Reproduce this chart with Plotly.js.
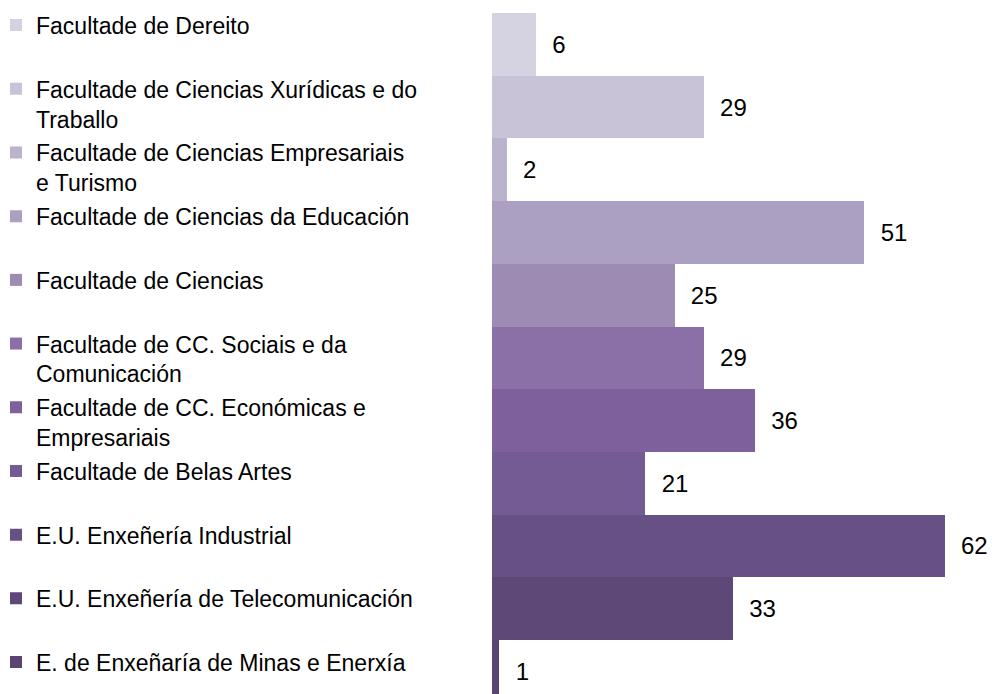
<!DOCTYPE html>
<html>
<head>
<meta charset="utf-8">
<script src="https://cdn.plot.ly/plotly-3.0.1.min.js"></script>
<style>
  html, body { margin: 0; padding: 0; background: #fff; }
  #chart { width: 992px; height: 694px; }
</style>
</head>
<body>
<div id="chart"></div>
<script>
// Category names (as wrapped in the legend)
const categories = [
  "Facultade de Dereito",
  "Facultade de Ciencias Xurídicas e do<br>Traballo",
  "Facultade de Ciencias Empresariais<br>e Turismo",
  "Facultade de Ciencias da Educación",
  "Facultade de Ciencias",
  "Facultade de CC. Sociais e da<br>Comunicación",
  "Facultade de CC. Económicas e<br>Empresariais",
  "Facultade de Belas Artes",
  "E.U. Enxeñería Industrial",
  "E.U. Enxeñería de Telecomunicación",
  "E. de Enxeñaría de Minas e Enerxía"
];

// Values per faculty
const values = [6, 29, 2, 51, 25, 29, 36, 21, 62, 33, 1];

// Series colours
const colors = [
  "#D5D2E2", "#C9C3D8", "#BBB2CD", "#ABA0C2", "#9D8BB3",
  "#8A70A6", "#7E619C", "#745B93", "#675084", "#5E4877", "#594472"
];

const FONT = 'Arial, "Liberation Sans", sans-serif';

const traces = categories.map((name, i) => {
  const plain = name.replace(/<br>/g, " ");
  // keep every legend entry (except the last) two lines tall so entries are evenly spaced
  const legendName = (name.indexOf("<br>") === -1 && i < categories.length - 1)
    ? name + "<br>\u00a0" : name;
  return {
    type: "bar",
    orientation: "h",
    name: legendName,
    legendgroup: "g" + i,
    x: [values[i]],
    y: [plain],
    width: 1,
    marker: { color: colors[i], line: { width: 0 } },
    texttemplate: "\u00a0\u00a0%{x}",
    textposition: "outside",
    textfont: { family: FONT, size: 24, color: "#000000" },
    constraintext: "none",
    cliponaxis: false,
    hoverinfo: "x+y"
  };
});

const layout = {
  width: 992,
  height: 694,
  margin: { l: 492, r: 0, t: 13, b: 0, pad: 0, autoexpand: false },
  paper_bgcolor: "#ffffff",
  plot_bgcolor: "#ffffff",
  barmode: "overlay",
  bargap: 0,
  showlegend: true,
  font: { family: FONT, color: "#000000" },
  xaxis: {
    visible: false,
    range: [0, 68.49],
    fixedrange: true
  },
  yaxis: {
    visible: false,
    type: "category",
    categoryorder: "array",
    categoryarray: categories.map(c => c.replace(/<br>/g, " ")),
    range: [10.361, -0.5],
    fixedrange: true
  },
  legend: {
    xref: "paper",
    yref: "container",
    x: -0.992,
    y: 0.9948,
    xanchor: "left",
    yanchor: "top",
    orientation: "v",
    traceorder: "grouped",
    tracegroupgap: 0.9,
    valign: "top",
    bgcolor: "rgba(0,0,0,0)",
    borderwidth: 0,
    maxheight: 2000,
    font: { family: FONT, size: 23, color: "#000000" }
  }
};

Plotly.newPlot("chart", traces, layout, { displayModeBar: false, staticPlot: true });
</script>
</body>
</html>
